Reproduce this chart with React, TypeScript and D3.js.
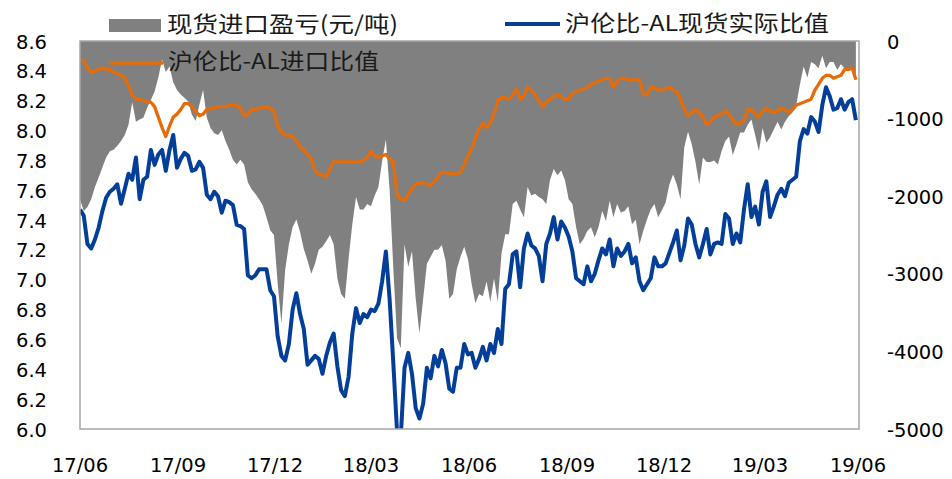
import React, { useRef, useEffect } from "react";
import * as d3 from "d3";

// one sample every half week (84 hours) starting 2017-06-01
const startDate = "2017-06-01";
const stepHours = 84;

// 现货进口盈亏 (元/吨), right axis
const profitLoss = [
  -2040, -2190, -2140, -2040, -1880, -1760, -1630, -1500, -1420, -1400,
  -1350, -1290, -1210, -1080, -790, -1040, -1010, -990, -860, -760,
  -650, -470, -240, -400, -330, -530, -630, -690, -730, -780,
  -950, -1030, -820, -630, -990, -1120, -1190, -1210, -1150, -1290,
  -1400, -1530, -1590, -1530, -1590, -1820, -1910, -1970, -2040, -2120,
  -2270, -2440, -2500, -3130, -3640, -2950, -2620, -2400, -2300, -2460,
  -2680, -2830, -3000, -2870, -2690, -2650, -2580, -2500, -2620, -3060,
  -3260, -3320, -2810, -2360, -2010, -2170, -2170, -2100, -2130, -1990,
  -1880, -1550, -1270, -1910, -2940, -3830, -3960, -2620, -2910, -2710,
  -3320, -3770, -3320, -2870, -2780, -2690, -2690, -2630, -2830, -3320,
  -3260, -2940, -2780, -2650, -2810, -3130, -3380, -3260, -3290, -3100,
  -3360, -3060, -3360, -2740, -2490, -2490, -2100, -2060, -2170, -2270,
  -1880, -1990, -1970, -2010, -2040, -2100, -1790, -1650, -1730, -1670,
  -1790, -2040, -2100, -2400, -2620, -2550, -2450, -2400, -2530, -2400,
  -2190, -2320, -2060, -2270, -2100, -2210, -2190, -2130, -2360, -2300,
  -2620, -2450, -2300, -2170, -2100, -2270, -2180, -2080, -1850, -1720,
  -1850, -2040, -1370, -1170, -1330, -1560, -1850, -1500, -1560, -1560,
  -1540, -1590, -1420, -1290, -1230, -1470, -1330, -1180, -1180, -1080,
  -1010, -1210, -1420, -1120, -1310, -1240, -1140, -1040, -1140, -1040,
  -970, -920, -830, -560, -330, -470, -270, -300, -350, -190,
  -350, -270, -270, -370, -300, -350, -380, -370, -500,
];

// 沪伦比-AL进口比值
const importRatio = [
  8.47, 8.47, 8.42, 8.39, 8.40, 8.41, 8.42, 8.41, 8.41, 8.39,
  8.38, 8.37, 8.35, 8.30, 8.24, 8.21, 8.21, 8.20, 8.19, 8.19,
  8.16, 8.09, 8.02, 7.96, 8.03, 8.09, 8.11, 8.14, 8.18, 8.18,
  8.16, 8.13, 8.10, 8.11, 8.14, 8.15, 8.15, 8.16, 8.16, 8.16,
  8.17, 8.17, 8.17, 8.15, 8.10, 8.11, 8.14, 8.14, 8.15, 8.15,
  8.16, 8.15, 8.13, 8.03, 7.99, 7.97, 7.97, 7.96, 7.93, 7.89,
  7.87, 7.84, 7.81, 7.73, 7.71, 7.70, 7.69, 7.74, 7.79, 7.79,
  7.79, 7.79, 7.79, 7.79, 7.79, 7.79, 7.80, 7.82, 7.86, 7.83,
  7.82, 7.83, 7.84, 7.81, 7.79, 7.57, 7.54, 7.53, 7.57, 7.61,
  7.64, 7.65, 7.65, 7.64, 7.63, 7.66, 7.69, 7.72, 7.72, 7.71,
  7.71, 7.71, 7.72, 7.77, 7.83, 7.88, 7.95, 8.01, 8.05, 8.02,
  8.05, 8.11, 8.20, 8.22, 8.22, 8.21, 8.24, 8.28, 8.21, 8.23,
  8.29, 8.27, 8.24, 8.20, 8.16, 8.19, 8.21, 8.23, 8.24, 8.23,
  8.21, 8.21, 8.25, 8.26, 8.27, 8.28, 8.29, 8.31, 8.32, 8.33,
  8.34, 8.35, 8.35, 8.29, 8.33, 8.35, 8.35, 8.34, 8.34, 8.34,
  8.34, 8.24, 8.24, 8.29, 8.29, 8.27, 8.27, 8.28, 8.29, 8.27,
  8.26, 8.21, 8.14, 8.10, 8.12, 8.14, 8.12, 8.09, 8.04, 8.06,
  8.09, 8.10, 8.11, 8.13, 8.11, 8.07, 8.04, 8.05, 8.07, 8.14,
  8.14, 8.11, 8.09, 8.13, 8.15, 8.13, 8.12, 8.13, 8.15, 8.14,
  8.12, 8.14, 8.17, 8.18, 8.19, 8.20, 8.21, 8.27, 8.31, 8.35,
  8.37, 8.37, 8.35, 8.36, 8.37, 8.41, 8.41, 8.42, 8.34,
];

// 沪伦比-AL现货实际比值
const spotRatio = [
  7.47, 7.43, 7.24, 7.21, 7.27, 7.35, 7.46, 7.55, 7.59, 7.61,
  7.64, 7.51, 7.61, 7.71, 7.67, 7.82, 7.54, 7.67, 7.69, 7.87,
  7.77, 7.84, 7.87, 7.73, 7.87, 7.97, 7.75, 7.81, 7.85, 7.83,
  7.73, 7.74, 7.79, 7.75, 7.57, 7.54, 7.59, 7.56, 7.45, 7.53,
  7.52, 7.50, 7.37, 7.36, 7.34, 7.03, 7.01, 7.03, 7.07, 7.07,
  7.07, 6.93, 6.89, 6.62, 6.49, 6.46, 6.57, 6.80, 6.91, 6.77,
  6.67, 6.43, 6.46, 6.49, 6.47, 6.37, 6.49, 6.58, 6.64, 6.42,
  6.26, 6.22, 6.35, 6.64, 6.81, 6.71, 6.77, 6.75, 6.80, 6.79,
  6.84, 6.99, 7.19, 6.87, 6.44, 5.98, 5.95, 6.41, 6.51, 6.37,
  6.14, 6.07, 6.17, 6.41, 6.34, 6.49, 6.42, 6.53, 6.44, 6.27,
  6.25, 6.41, 6.41, 6.57, 6.50, 6.51, 6.41, 6.47, 6.55, 6.46,
  6.57, 6.51, 6.67, 6.57, 6.94, 6.97, 7.17, 7.19, 6.95, 7.21,
  7.31, 7.23, 7.21, 7.16, 6.99, 7.24, 7.31, 7.42, 7.27, 7.39,
  7.35, 7.29, 7.19, 7.01, 6.99, 6.97, 7.09, 6.99, 7.04, 7.13,
  7.21, 7.17, 7.27, 7.09, 7.21, 7.16, 7.19, 7.24, 7.11, 7.15,
  6.99, 6.93, 6.97, 7.01, 7.15, 7.09, 7.09, 7.11, 7.18, 7.25,
  7.33, 7.13, 7.23, 7.41, 7.37, 7.24, 7.15, 7.24, 7.34, 7.17,
  7.24, 7.25, 7.24, 7.44, 7.41, 7.24, 7.31, 7.25, 7.47, 7.64,
  7.42, 7.49, 7.37, 7.59, 7.66, 7.42, 7.49, 7.57, 7.61, 7.56,
  7.65, 7.67, 7.69, 7.93, 8.01, 7.98, 8.09, 8.06, 7.99, 8.17,
  8.29, 8.23, 8.14, 8.15, 8.21, 8.14, 8.19, 8.21, 8.07,
];

const xTickLabels = ["17/06", "17/09", "17/12", "18/03", "18/06", "18/09", "18/12", "19/03", "19/06"];
const leftTicks = [6.0, 6.2, 6.4, 6.6, 6.8, 7.0, 7.2, 7.4, 7.6, 7.8, 8.0, 8.2, 8.4, 8.6];
const rightTicks = [0, -1000, -2000, -3000, -4000, -5000];

const legendNames = ["现货进口盈亏(元/吨)", "沪伦比-AL进口比值", "沪伦比-AL现货实际比值"];

const GREY = "#808080";
const ORANGE = "#E46C0A";
const BLUE = "#033F99";

function App() {
  const ref = useRef<SVGSVGElement>(null);

  useEffect(() => {
    const svg = d3.select(ref.current);
    svg.selectAll("*").remove();

    const left = 80, right = 859, top = 41, bottom = 429;
    const parse = d3.timeParse("%Y-%m-%d");
    const start = parse(startDate)!;
    const dates = profitLoss.map((_, i) => d3.timeHour.offset(start, stepHours * i));

    const x = d3.scaleTime()
      .domain([start, parse("2019-06-01")!])
      .range([left, 858]);
    const yL = d3.scaleLinear().domain([6, 8.6]).range([bottom, top]);
    const yR = d3.scaleLinear().domain([-5000, 0]).range([bottom, top]);

    svg.append("defs").append("clipPath").attr("id", "plot-clip")
      .append("rect").attr("x", left).attr("y", top)
      .attr("width", right - left).attr("height", bottom - top);

    const g = svg.append("g").attr("clip-path", "url(#plot-clip)");

    // grey profit / loss area hanging from zero
    const area = d3.area<number>()
      .x((_, i) => x(dates[i]))
      .y0(yR(0))
      .y1((d) => yR(d));
    g.append("path").datum(profitLoss)
      .attr("fill", GREY).attr("d", area);

    const lineL = d3.line<number>()
      .x((_, i) => x(dates[i]))
      .y((d) => yL(d));

    g.append("path").datum(importRatio)
      .attr("fill", "none").attr("stroke", ORANGE)
      .attr("stroke-width", 3.3).attr("stroke-linejoin", "round")
      .attr("d", lineL);

    g.append("path").datum(spotRatio)
      .attr("fill", "none").attr("stroke", BLUE)
      .attr("stroke-width", 4).attr("stroke-linejoin", "round")
      .attr("d", lineL);

    // plot frame
    svg.append("rect")
      .attr("x", left).attr("y", top)
      .attr("width", right - left).attr("height", bottom - top)
      .attr("fill", "none").attr("stroke", "#a6a6a6").attr("stroke-width", 1.5);

    const font = "'DejaVu Sans', sans-serif";

    // left axis labels
    svg.append("g").selectAll("text").data(leftTicks).join("text")
      .attr("x", 47).attr("y", (d) => yL(d) + 2)
      .attr("text-anchor", "end").attr("dominant-baseline", "middle")
      .attr("font-family", font).attr("font-size", 19.5).attr("fill", "#000")
      .text((d) => d.toFixed(1));

    // right axis labels
    svg.append("g").selectAll("text").data(rightTicks).join("text")
      .attr("x", 887).attr("y", (d) => yR(d) + 2)
      .attr("text-anchor", "start").attr("dominant-baseline", "middle")
      .attr("font-family", font).attr("font-size", 19.5).attr("fill", "#000")
      .text((d) => String(d));

    // x axis labels
    const parseTick = d3.timeParse("%y/%m");
    svg.append("g").selectAll("text").data(xTickLabels).join("text")
      .attr("x", (d) => x(parseTick(d)!))
      .attr("y", 466)
      .attr("text-anchor", "middle").attr("dominant-baseline", "middle")
      .attr("font-family", font).attr("font-size", 19.5).attr("fill", "#000")
      .text((d) => d);

    // legend
    const lg = svg.append("g")
      .attr("font-family", "'Noto Sans CJK SC', sans-serif")
      .attr("font-size", 22).attr("fill", "#1a1a1a");

    lg.append("rect").attr("x", 109).attr("y", 19).attr("width", 52).attr("height", 13).attr("fill", GREY);
    lg.append("text").attr("x", 167).attr("y", 26).attr("dominant-baseline", "middle")
      .attr("textLength", 231).attr("lengthAdjust", "spacingAndGlyphs").text(legendNames[0]);

    lg.append("line").attr("x1", 109).attr("x2", 163).attr("y1", 63).attr("y2", 63)
      .attr("stroke", ORANGE).attr("stroke-width", 3.3);
    lg.append("text").attr("x", 168).attr("y", 63).attr("dominant-baseline", "middle")
      .attr("textLength", 211).attr("lengthAdjust", "spacingAndGlyphs").text(legendNames[1]);

    lg.append("line").attr("x1", 505).attr("x2", 560).attr("y1", 24).attr("y2", 24)
      .attr("stroke", BLUE).attr("stroke-width", 4);
    lg.append("text").attr("x", 565).attr("y", 25).attr("dominant-baseline", "middle")
      .attr("textLength", 264).attr("lengthAdjust", "spacingAndGlyphs").text(legendNames[2]);
  }, []);

  return (
    <svg
      ref={ref}
      width={952}
      height={479}
      style={{ position: "absolute", left: 0, top: 0, background: "#fff" }}
    ></svg>
  );
}

export default App;
